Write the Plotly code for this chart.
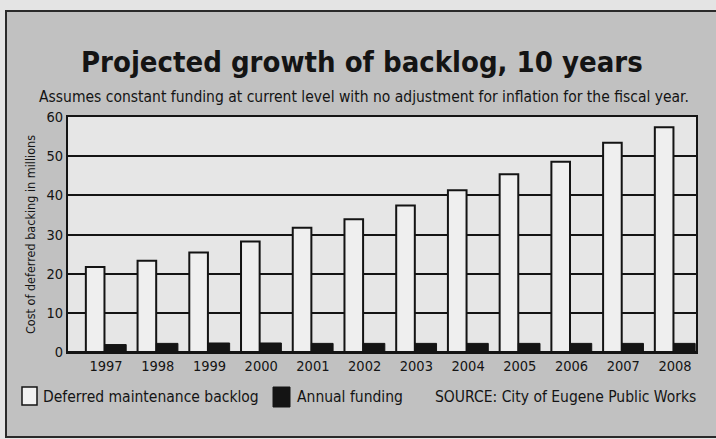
import plotly.graph_objects as go

years = ["1997", "1998", "1999", "2000", "2001", "2002", "2003", "2004", "2005", "2006", "2007", "2008"]
backlog = [21.7, 23.3, 25.4, 28.2, 31.7, 33.9, 37.4, 41.3, 45.4, 48.6, 53.4, 57.4]
funding = [1.9, 2.2, 2.3, 2.3, 2.2, 2.2, 2.2, 2.2, 2.2, 2.2, 2.2, 2.2]
y_ticks = [0, 10, 20, 30, 40, 50, 60]

title_text = "Projected growth of backlog, 10 years"
subtitle_text = "Assumes constant funding at current level with no adjustment for inflation for the fiscal year."
y_title = "Cost of deferred backing in millions"
legend_names = ["Deferred maintenance backlog", "Annual funding"]
source_text = "SOURCE: City of Eugene Public Works"

W, H = 716, 439
L, R, T, B = 68, 20, 117, 87
PW, PH = W - L - R, H - T - B

def px(x):
    return (x - L) / PW

def py(y):
    return (H - B - y) / PH

NARROW = "DejaVu Sans Condensed, Liberation Sans Narrow, sans-serif"
INK = "#141414"

fig = go.Figure()
fig.add_trace(go.Bar(
    x=years, y=backlog, name=legend_names[0],
    offset=-0.39, width=0.36,
    marker=dict(color="#efefef", line=dict(color=INK, width=2)),
    showlegend=False,
))
fig.add_trace(go.Bar(
    x=years, y=funding, name=legend_names[1],
    offset=-0.03, width=0.42,
    marker=dict(color=INK, line=dict(color=INK, width=1)),
    showlegend=False,
))

shapes = [
    dict(type="rect", xref="paper", yref="paper", layer="below",
         x0=px(6), x1=px(730), y0=py(437), y1=py(11),
         fillcolor="#c1c1c1", line=dict(color="#2a2a2a", width=2)),
    dict(type="rect", xref="paper", yref="paper", layer="below",
         x0=0, x1=1, y0=0, y1=1,
         fillcolor="#e6e6e6", line=dict(width=0)),
    dict(type="rect", xref="paper", yref="paper",
         x0=px(22), x1=px(37), y0=py(405), y1=py(387),
         fillcolor="#f2f2f2", line=dict(color=INK, width=1.5)),
    dict(type="rect", xref="paper", yref="paper",
         x0=px(273), x1=px(290), y0=py(407), y1=py(387),
         fillcolor=INK, line=dict(color=INK, width=1)),
]

annotations = [
    dict(text="<b>" + title_text + "</b>", xref="paper", yref="paper",
         x=px(362), y=py(62), xanchor="center", yanchor="middle", showarrow=False,
         font=dict(family=NARROW, size=29, color=INK)),
    dict(text=subtitle_text, xref="paper", yref="paper",
         x=px(364), y=py(97), xanchor="center", yanchor="middle", showarrow=False,
         font=dict(family=NARROW, size=15.5, color=INK)),
    dict(text=legend_names[0], xref="paper", yref="paper",
         x=px(41), y=py(397), xanchor="left", yanchor="middle", showarrow=False,
         font=dict(family=NARROW, size=15.5, color=INK)),
    dict(text=legend_names[1], xref="paper", yref="paper",
         x=px(295), y=py(397), xanchor="left", yanchor="middle", showarrow=False,
         font=dict(family=NARROW, size=15.5, color=INK)),
    dict(text=source_text, xref="paper", yref="paper",
         x=px(698), y=py(397), xanchor="right", yanchor="middle", showarrow=False,
         font=dict(family=NARROW, size=15.5, color=INK)),
]

fig.update_layout(
    width=W, height=H,
    margin=dict(l=L, r=R, t=T, b=B),
    paper_bgcolor="#e4e4e4",
    plot_bgcolor="rgba(0,0,0,0)",
    barmode="overlay",
    shapes=shapes,
    annotations=annotations,
    font=dict(family=NARROW, color=INK),
    xaxis=dict(
        type="category", range=[-0.735, 11.406],
        showgrid=False, showline=True, linecolor=INK, linewidth=2, mirror=True,
        ticks="", tickfont=dict(family=NARROW, size=14.5, color=INK),
        fixedrange=True,
    ),
    yaxis=dict(
        range=[0, 60], tickvals=y_ticks,
        showgrid=True, gridcolor=INK, gridwidth=2,
        zeroline=True, zerolinecolor=INK, zerolinewidth=2,
        showline=True, linecolor=INK, linewidth=2, mirror=True,
        ticks="", tickfont=dict(family=NARROW, size=14.5, color=INK),
        title=dict(text=y_title, font=dict(family=NARROW, size=12.5, color=INK), standoff=8),
        fixedrange=True,
    ),
)

fig.write_html("out.html", config={"displayModeBar": False},
               post_script="document.body.style.margin='0';document.body.style.padding='0';")
